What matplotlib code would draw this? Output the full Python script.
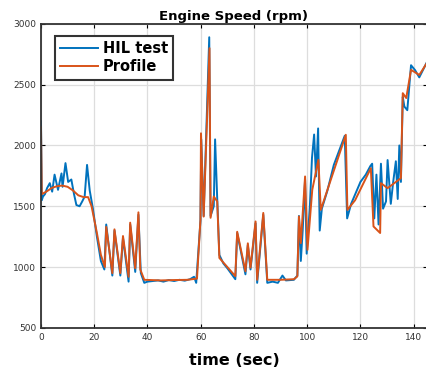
import matplotlib
matplotlib.use('Agg')
import matplotlib.pyplot as plt

# profile (reference speed)
prof_t = [0, 0.3, 2, 4, 6, 8, 10, 12, 14, 16, 17.7, 19, 21, 22.5, 24,
          24.5, 26.8, 27.6, 29.8, 30.8, 32.9, 33.5, 35.4, 36.6, 37.3, 38.8,
          45, 50, 55, 58.6, 59.9, 60.1, 61.1, 63.3, 63.7, 64.9, 66.2, 67,
          70, 73, 73.7, 76.8, 77.7, 78.7, 80.6, 81.2, 83.5, 85, 90, 95,
          96.3, 96.9, 97.6, 99.2, 100.1, 101.9, 104.2, 105.1, 107.6, 114.5,
          115.1, 118, 123.9, 124.9, 127.4, 127.7, 130.2, 135.2, 135.9, 137.2,
          139, 142.1, 145.3]
prof_rpm = [2150, 1600, 1620, 1650, 1665, 1670, 1660, 1630, 1590, 1575, 1575,
            1500, 1280, 1100, 1000,
            1330, 950, 1310, 950, 1255, 920, 1365, 990, 1450, 980, 895,
            890, 893, 895, 905, 1390, 2100, 1415, 2800, 1405, 1580, 1540, 1075,
            1000, 925, 1290, 965, 1195, 995, 1375, 895, 1445, 895, 895, 900,
            923, 1416, 1197, 1745, 1142, 1635, 1882, 1470, 1635, 2088,
            1470, 1550, 1813, 1334, 1280, 1690, 1649, 1731, 2430, 2390,
            2622, 2580, 2690]

# HIL test measurement
hil_t = [0, 0.3, 0.75, 1.5, 2.3, 3.3, 4.2, 5.1, 6.4, 7.7, 8.1, 9.2, 10.2, 11.4,
         12.4, 13.3, 14.5, 15.5, 16.4, 17.3, 18.3, 19.5, 21, 22.5, 23.8,
         24.5, 26.8, 27.6, 29.8, 30.8, 32.9, 33.5, 35.4, 36.6, 37.5, 38.8,
         40, 42, 44, 46, 48, 50, 52, 54, 56, 57.5, 58.3, 59.9, 60.2, 61.1,
         63.2, 63.7, 64.9, 65.4, 66.2, 67, 68.5, 70, 73, 73.7, 76.8, 77.7,
         78.7, 80.6, 81.2, 83.5, 85, 87, 89, 90.7, 92, 95, 96.3, 96.9, 97.6,
         98.3, 99.2, 99.8, 101, 101.8, 102.6, 103.3, 104.1, 104.7, 105.5,
         107.6, 110, 114.1, 115, 116.5, 120, 122, 123.7, 124.4, 125.2, 126,
         126.8, 127.7, 128.5, 129.6, 130.2, 131.4, 132.3, 133.3, 134, 134.6,
         135.2, 135.9, 136.5, 137.6, 139, 140.5, 142.1, 145.3]
hil_rpm = [2200, 1550, 1580, 1600, 1650, 1690, 1620, 1760, 1635, 1770, 1660,
           1855, 1700, 1720, 1600, 1510, 1500, 1540, 1580, 1840, 1630, 1480,
           1250, 1050, 980,
           1350, 930, 1300, 930, 1240, 880, 1350, 960, 1430, 950, 870,
           880, 885, 890, 880, 893, 885, 895, 888, 900, 920, 870, 1380, 2050,
           1420, 2890, 1420, 1500, 2050, 1560, 1100, 1030, 990, 900, 1280, 940,
           1180, 980, 1360, 870, 1430, 870, 880, 870, 930, 890, 895, 930, 1420,
           1050, 1300, 1720, 1110, 1500, 1900, 2090, 1745, 2140, 1300, 1480,
           1630, 1840, 2080, 1400, 1520, 1700, 1760, 1830, 1850, 1400, 1760,
           1350, 1850, 1480, 1540, 1880, 1520, 1700, 1870, 1560, 2000,
           1700, 2400, 2320, 2290, 2660, 2620, 2560, 2700]

fig = plt.figure(figsize=(4.27, 3.79), dpi=100)
ax = fig.add_axes([0.096, 0.135, 0.904, 0.802])

ax.plot(hil_t, hil_rpm, color='#0072BD', lw=1.4, label='HIL test')
ax.plot(prof_t, prof_rpm, color='#D95319', lw=1.4, label='Profile')

ax.set_xlim(0, 145)
ax.set_ylim(500, 3000)
ax.set_xticks(range(0, 141, 20))
ax.set_yticks(range(500, 3001, 500))
ax.grid(True, color='#dddddd', lw=0.9)
ax.tick_params(direction='in', labelsize=6.5, labelcolor='#333333',
               top=True, right=True, length=3, width=0.8)
for s in ax.spines.values():
    s.set_linewidth(1.3)
    s.set_color('#333333')

ax.set_title('Engine Speed (rpm)', fontsize=9.5, fontweight='bold', pad=3)
ax.set_xlabel('time (sec)', fontsize=11.5, fontweight='bold', labelpad=8)

leg = ax.legend(loc='upper left', prop={'weight': 'bold', 'size': 10.5},
                fancybox=False, framealpha=1, edgecolor='#333333',
                handlelength=2.6, borderpad=0.35, labelspacing=0.25,
                handletextpad=0.3, bbox_to_anchor=(0.018, 0.985))
leg.get_frame().set_linewidth(1.5)

fig.savefig('out.png', dpi=100)
